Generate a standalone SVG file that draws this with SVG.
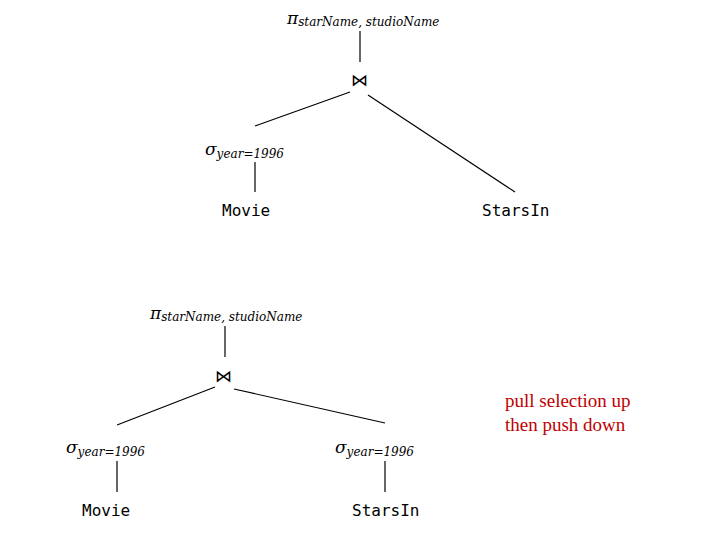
<svg xmlns="http://www.w3.org/2000/svg" width="720" height="540" viewBox="0 0 720 540">
<style>
.op{font-family:"DejaVu Serif","Liberation Serif",serif;font-style:italic;font-size:17px;fill:#000}
.sub{font-family:"DejaVu Serif","Liberation Serif",serif;font-style:italic;font-size:12px;fill:#000}
.rel{font-family:"DejaVu Sans Mono","Liberation Mono",monospace;font-size:16px;fill:#000}
.note{font-family:"Liberation Serif",serif;font-size:19px;fill:#c00000}
.c line{stroke:#000;stroke-width:1.2}
</style>
<rect width="720" height="540" fill="#fff"/>
<g class="c" id="connectors">
<line x1="360" y1="31" x2="360" y2="62"/>
<line x1="350" y1="92" x2="255" y2="126"/>
<line x1="368" y1="95" x2="515" y2="192"/>
<line x1="255" y1="162" x2="255" y2="192"/>
<line x1="225" y1="326" x2="225" y2="357"/>
<line x1="215" y1="387" x2="117" y2="425"/>
<line x1="234" y1="389" x2="385" y2="423"/>
<line x1="117" y1="461" x2="117" y2="492"/>
<line x1="385" y1="461" x2="385" y2="492"/>
</g>
<g id="proj1"><text class="op" x="287" y="24">π<tspan class="sub" dy="2">starName, studioName</tspan></text></g>
<g id="join1"><text class="op" style="font-style:normal" x="351" y="86">⋈</text></g>
<g id="sel1"><text class="op" x="205" y="155">σ<tspan class="sub" dy="3">year=1996</tspan></text></g>
<g id="movie1"><text class="rel" x="222" y="216">Movie</text></g>
<g id="starsin1"><text class="rel" x="482" y="216">StarsIn</text></g>
<g id="proj2"><text class="op" x="150" y="319">π<tspan class="sub" dy="2">starName, studioName</tspan></text></g>
<g id="join2"><text class="op" style="font-style:normal" x="215" y="382">⋈</text></g>
<g id="sel2"><text class="op" x="66" y="453">σ<tspan class="sub" dy="3">year=1996</tspan></text></g>
<g id="sel3"><text class="op" x="335" y="453">σ<tspan class="sub" dy="3">year=1996</tspan></text></g>
<g id="movie2"><text class="rel" x="82" y="516">Movie</text></g>
<g id="starsin2"><text class="rel" x="352" y="516">StarsIn</text></g>
<g id="note"><text class="note" x="505" y="407">pull selection up</text><text class="note" x="505" y="431">then push down</text></g>
</svg>
